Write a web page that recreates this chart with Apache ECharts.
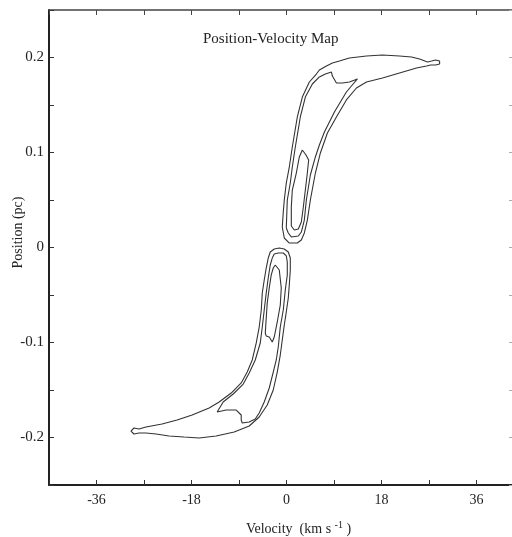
<!DOCTYPE html>
<html>
<head>
<meta charset="utf-8">
<script src="https://cdn.jsdelivr.net/npm/echarts@6/dist/echarts.min.js"></script>
<style>
html,body{margin:0;padding:0;background:#fff;}
#chart{width:512px;height:537px;}
</style>
</head>
<body>
<div id="chart"></div>
<script>
// Tick labels
const xTickLabels = [-36, -18, 0, 18, 36];
const yTickLabels = [-0.2, -0.1, 0, 0.1, 0.2];

// Contours: [velocity (km/s), position (pc)]
const upperOuter = [[-0.80,0.0216],[-0.61,0.0374],[-0.42,0.0500],[-0.04,0.0679],[0.53,0.0847],[1.10,0.1058],[1.48,0.1184],[2.05,0.1374],[3.00,0.1584],[4.33,0.1742],[5.66,0.1826],[6.23,0.1868],[7.56,0.1911],[8.70,0.1942],[10.02,0.1963],[11.92,0.1995],[15.15,0.2016],[18.19,0.2026],[21.41,0.2016],[23.69,0.2005],[25.21,0.1984],[26.73,0.1953],[27.49,0.1963],[28.25,0.1974],[29.01,0.1963],[29.01,0.1932],[28.25,0.1921],[27.30,0.1921],[26.54,0.1911],[24.64,0.1889],[21.41,0.1837],[18.19,0.1784],[15.15,0.1742],[13.25,0.1679],[11.35,0.1553],[9.46,0.1374],[7.75,0.1205],[6.42,0.0995],[5.47,0.0784],[4.52,0.0500],[3.95,0.0289],[3.38,0.0153],[2.81,0.0079],[2.05,0.0047],[0.53,0.0047],[-0.42,0.0100],[-0.80,0.0216]];
const upperInner = [[-0.04,0.0205],[0.15,0.0500],[0.72,0.0679],[1.10,0.0847],[1.67,0.1058],[2.62,0.1374],[3.57,0.1584],[4.90,0.1721],[6.23,0.1795],[7.37,0.1826],[8.51,0.1847],[8.70,0.1805],[9.46,0.1732],[10.59,0.1732],[11.92,0.1742],[13.44,0.1774],[12.30,0.1700],[11.35,0.1637],[10.21,0.1532],[9.08,0.1426],[8.13,0.1321],[7.18,0.1216],[6.23,0.1079],[5.47,0.0953],[4.52,0.0763],[3.76,0.0500],[3.38,0.0289],[2.81,0.0163],[2.24,0.0121],[0.91,0.0111],[0.34,0.0153],[-0.04,0.0205]];
const upperHole = [[3.00,0.1026],[3.70,0.0974],[4.01,0.0995],[4.20,0.0921],[3.95,0.0784],[3.57,0.0605],[3.19,0.0426],[2.81,0.0268],[2.24,0.0195],[1.48,0.0184],[0.91,0.0226],[0.91,0.0426],[1.10,0.0605],[1.86,0.0784],[2.43,0.0953],[3.00,0.1026]];
const lowerOuter = [[-3.46,-0.0111],[-3.08,-0.0047],[-2.32,-0.0016],[-1.37,-0.0005],[-0.42,-0.0016],[0.34,-0.0047],[0.72,-0.0111],[0.72,-0.0237],[0.53,-0.0395],[0.34,-0.0532],[-0.04,-0.0679],[-0.42,-0.0816],[-0.80,-0.0974],[-1.18,-0.1132],[-1.75,-0.1311],[-2.51,-0.1500],[-3.65,-0.1658],[-5.17,-0.1784],[-7.06,-0.1879],[-9.91,-0.1942],[-13.33,-0.1984],[-16.56,-0.2005],[-19.40,-0.1995],[-22.25,-0.1984],[-24.72,-0.1963],[-26.62,-0.1953],[-27.95,-0.1953],[-28.90,-0.1963],[-29.47,-0.1932],[-28.90,-0.1900],[-27.95,-0.1911],[-26.62,-0.1889],[-23.58,-0.1858],[-20.73,-0.1816],[-17.88,-0.1763],[-14.66,-0.1689],[-12.76,-0.1626],[-10.48,-0.1532],[-8.58,-0.1426],[-7.44,-0.1311],[-6.49,-0.1184],[-5.73,-0.1005],[-5.17,-0.0837],[-4.78,-0.0658],[-4.59,-0.0479],[-4.22,-0.0342],[-3.84,-0.0216],[-3.46,-0.0111]];
const lowerInner = [[-2.70,-0.0111],[-2.32,-0.0068],[-1.56,-0.0058],[-0.61,-0.0058],[-0.04,-0.0089],[0.15,-0.0153],[0.15,-0.0289],[-0.23,-0.0447],[-0.61,-0.0658],[-1.18,-0.0837],[-1.56,-0.1047],[-1.94,-0.1184],[-2.51,-0.1311],[-3.27,-0.1479],[-4.22,-0.1626],[-5.17,-0.1742],[-5.92,-0.1805],[-7.06,-0.1837],[-8.39,-0.1847],[-8.58,-0.1816],[-8.58,-0.1763],[-9.53,-0.1711],[-11.43,-0.1711],[-13.14,-0.1732],[-13.33,-0.1711],[-12.00,-0.1626],[-10.10,-0.1542],[-8.20,-0.1437],[-7.06,-0.1321],[-5.92,-0.1184],[-4.97,-0.1005],[-4.59,-0.0837],[-4.22,-0.0658],[-3.84,-0.0479],[-3.46,-0.0321],[-3.08,-0.0184],[-2.70,-0.0111]];
const lowerHole = [[-2.13,-0.0184],[-1.37,-0.0237],[-0.99,-0.0426],[-1.18,-0.0605],[-1.75,-0.0784],[-2.32,-0.0942],[-2.70,-0.0995],[-3.27,-0.0942],[-3.84,-0.0932],[-4.02,-0.0900],[-3.84,-0.0742],[-3.65,-0.0584],[-3.27,-0.0426],[-2.89,-0.0289],[-2.51,-0.0216],[-2.13,-0.0184]];

const FONT = '"Liberation Serif", "DejaVu Serif", serif';
const near = (arr, v) => arr.some(t => Math.abs(t - v) < 1e-6);

const contours = [upperOuter, upperInner, upperHole, lowerOuter, lowerInner, lowerHole];

const chart = echarts.init(document.getElementById('chart'), null, {renderer: 'canvas'});
chart.setOption({
  animation: false,
  backgroundColor: '#fff',
  title: {
    text: 'Position-Velocity Map',
    left: 198, top: 27,
    textStyle: {fontFamily: FONT, fontSize: 15, fontWeight: 'normal', color: '#222'}
  },
  grid: {left: 49, top: 10, width: 475, height: 475, containLabel: false, outerBoundsMode: 'none'},
  xAxis: [{
    type: 'value', position: 'bottom', min: -45, max: 45, interval: 9,
    axisLine: {show: true, onZero: false, lineStyle: {color: '#222', width: 2}},
    axisTick: {show: true, inside: true, length: 5, lineStyle: {color: '#333', width: 1}},
    axisLabel: {
      margin: 8, fontFamily: FONT, fontSize: 14, color: '#222',
      formatter: v => near(xTickLabels, v) ? String(Math.round(v)) : ''
    },
    splitLine: {show: false},
    name: 'Velocity  (km s {sup|-1} )',
    nameLocation: 'middle', nameGap: 35,
    nameTextStyle: {fontFamily: FONT, fontSize: 14, color: '#222', padding: [0, 0, 0, 24],
      rich: {sup: {fontFamily: FONT, fontSize: 10, color: '#222', verticalAlign: 'top', padding: [0, 0, 8, 0]}}}
  }, {
    type: 'value', position: 'top', min: -45, max: 45, interval: 9,
    axisLine: {show: true, onZero: false, lineStyle: {color: '#444', width: 1.5}},
    axisTick: {show: true, inside: true, length: 5, lineStyle: {color: '#444', width: 1}},
    axisLabel: {show: false}, splitLine: {show: false}
  }],
  yAxis: [{
    type: 'value', position: 'left', min: -0.25, max: 0.25, interval: 0.05,
    axisLine: {show: true, onZero: false, lineStyle: {color: '#222', width: 2}},
    axisTick: {show: true, inside: true, length: 5, lineStyle: {color: '#333', width: 1}},
    axisLabel: {
      margin: 5, fontFamily: FONT, fontSize: 15, color: '#222',
      formatter: v => {
        if (!near(yTickLabels, v)) return '';
        return Math.abs(v) < 1e-9 ? '0' : v.toFixed(1);
      }
    },
    splitLine: {show: false},
    name: 'Position (pc)', nameLocation: 'middle', nameGap: 24, nameMoveOverlap: false,
    nameTextStyle: {fontFamily: FONT, fontSize: 14, color: '#222', padding: [0, 0, 0, 30]}
  }, {
    type: 'value', position: 'right', offset: -10, min: -0.25, max: 0.25, interval: 0.05,
    axisLine: {show: false, onZero: false},
    axisTick: {show: true, inside: true, length: 5, lineStyle: {color: '#aaa', width: 1}},
    axisLabel: {show: false}, splitLine: {show: false}
  }],
  series: contours.map(d => ({
    type: 'line', xAxisIndex: 0, yAxisIndex: 0, data: d,
    showSymbol: false, symbol: 'none', silent: true, smooth: false,
    lineStyle: {color: '#333', width: 1.1}
  }))
});
</script>
</body>
</html>
